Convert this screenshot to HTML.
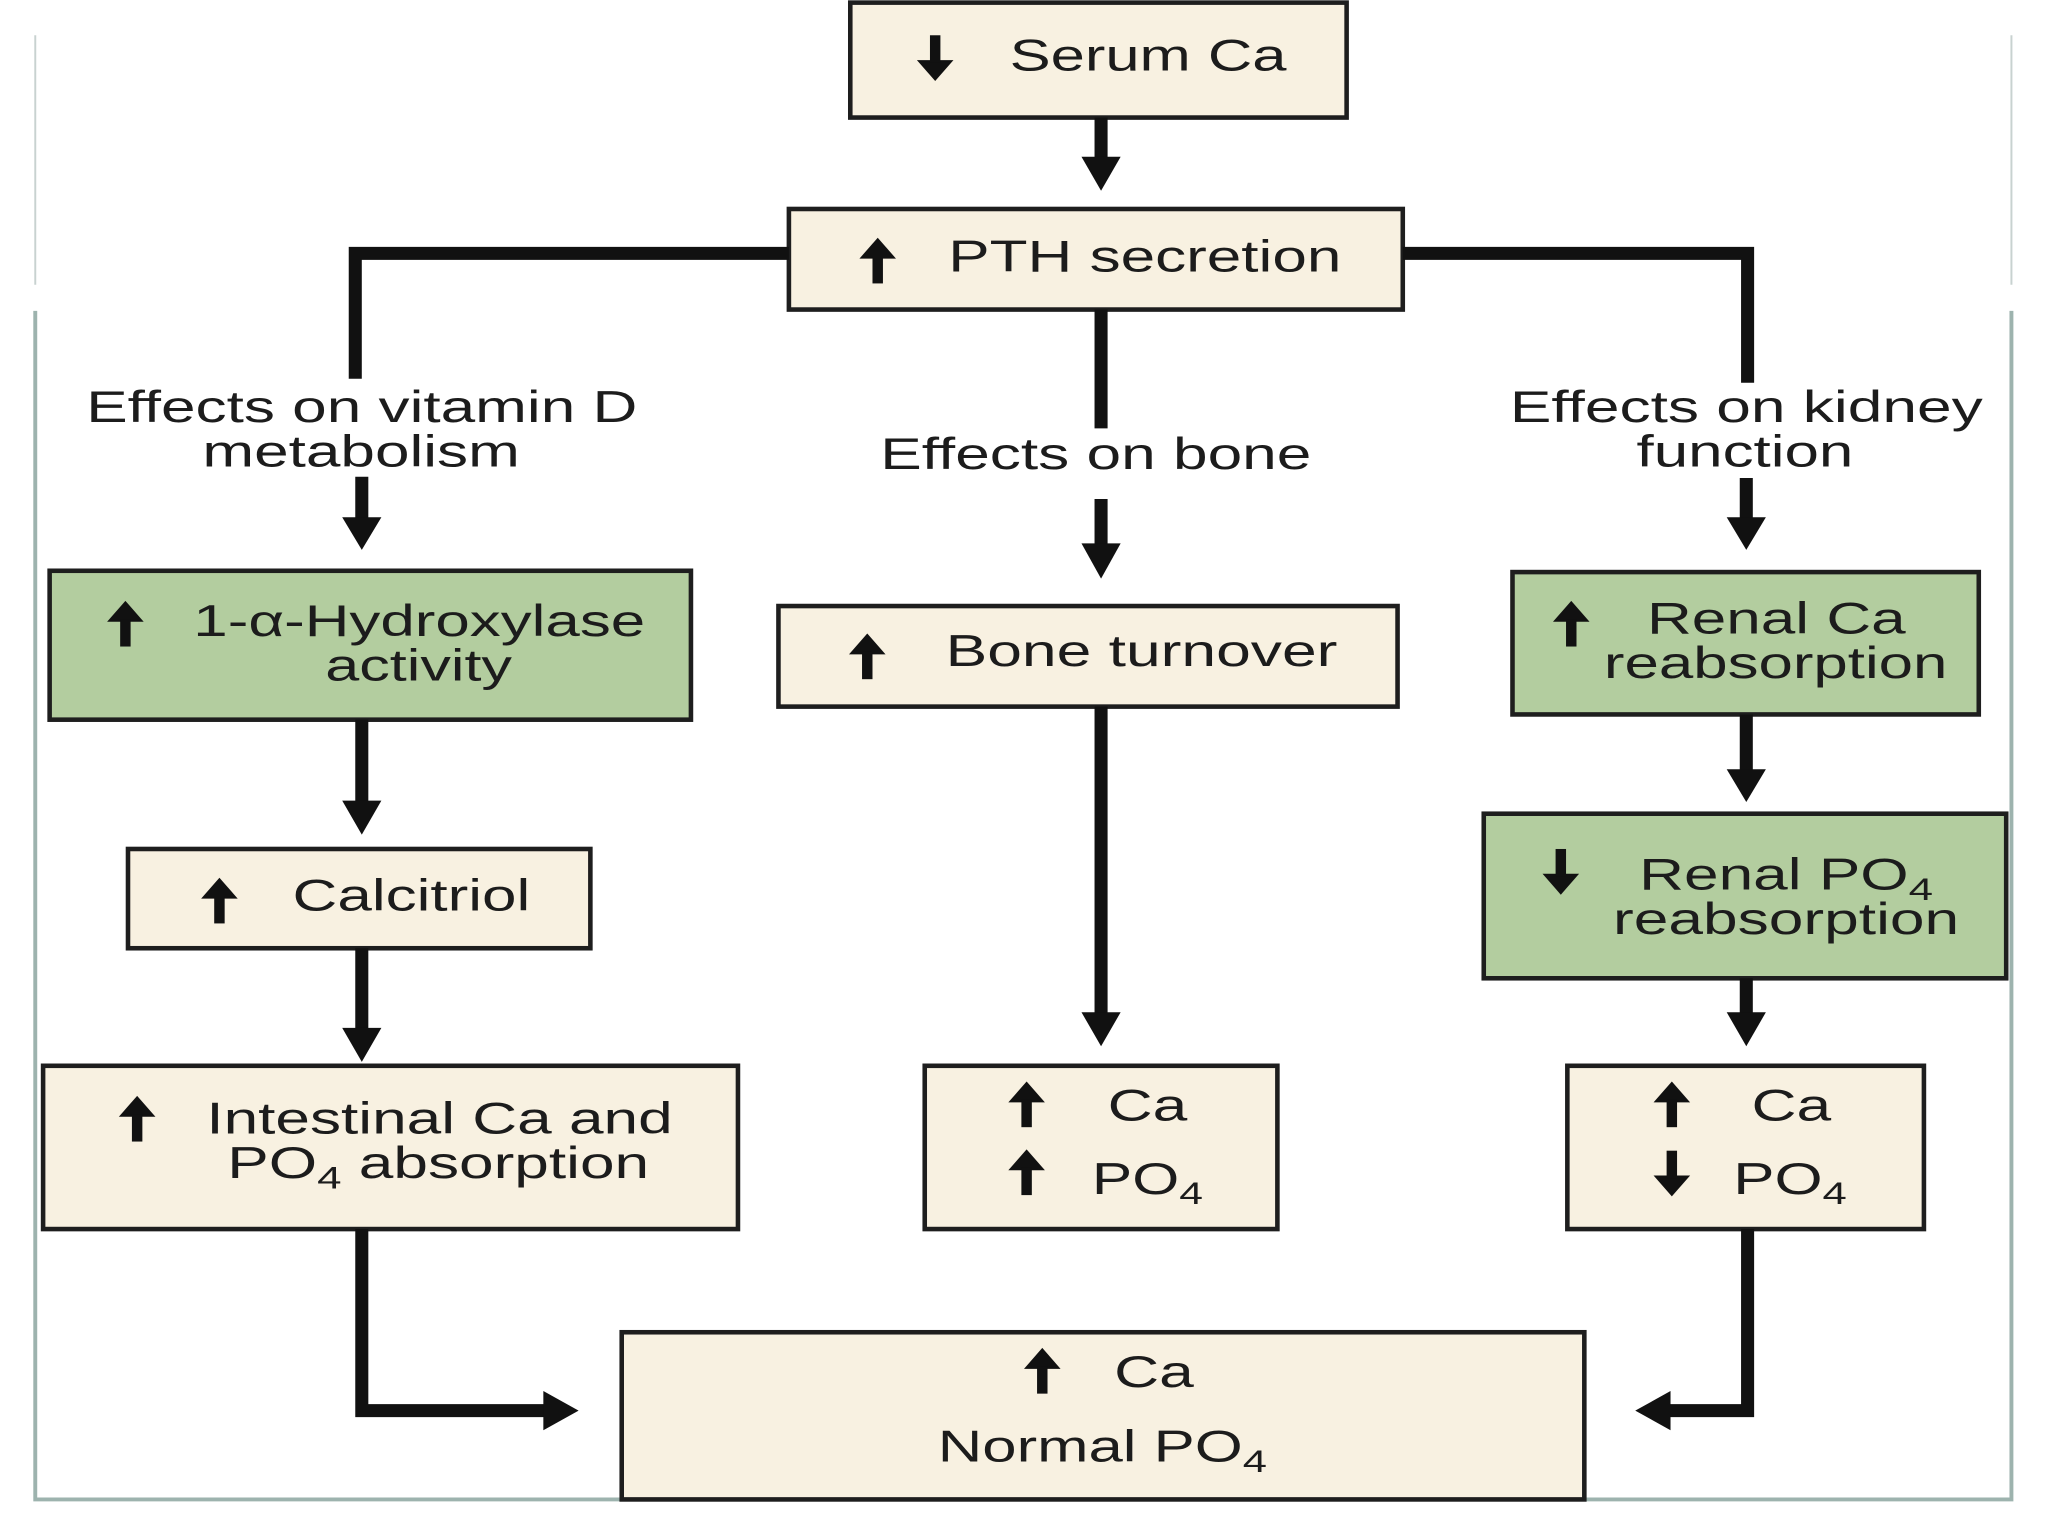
<!DOCTYPE html>
<html><head><meta charset="utf-8"><style>
html,body{margin:0;padding:0;background:#fff;}
svg{display:block;}
text{font-family:"Liberation Sans",sans-serif;fill:#1c1c1c;font-size:34px;}
</style></head><body>
<svg width="2048" height="1536" viewBox="0 0 1568 1176" preserveAspectRatio="none" xmlns="http://www.w3.org/2000/svg">
<defs>
<g id="up"><polygon points="0,-18 -14,-2 14,-2" fill="#111"/><rect x="-4" y="-4" width="8" height="21" fill="#111"/></g>
<g id="dn"><polygon points="0,18 -14,2 14,2" fill="#111"/><rect x="-4" y="-17" width="8" height="21" fill="#111"/></g>
</defs>
<rect width="1568" height="1176" fill="#fff"/>
<path d="M27,238 V1148 H1540 V238" fill="none" stroke="#9db3ae" stroke-width="3"/>
<path d="M27,27 V218 M1540,27 V218" fill="none" stroke="#c8d2d0" stroke-width="1.5"/>

<g fill="#f8f1e1" stroke="#1e1e1e" stroke-width="3.5">
<rect x="651" y="2" width="380" height="88"/>
<rect x="604" y="160" width="470" height="77"/>
<rect x="596" y="464" width="474" height="77"/>
<rect x="98" y="650" width="354" height="76"/>
<rect x="33" y="816" width="532" height="125"/>
<rect x="708" y="816" width="270" height="125"/>
<rect x="1200" y="816" width="273" height="125"/>
<rect x="476" y="1020" width="737" height="128"/>
</g>
<g fill="#b3cd9f" stroke="#1e1e1e" stroke-width="3.5">
<rect x="38" y="437" width="491" height="114"/>
<rect x="1158" y="438" width="357" height="109"/>
<rect x="1136" y="623" width="400" height="126"/>
</g>

<g fill="none" stroke="#111" stroke-width="10">
<path d="M843,90 V124"/>
<path d="M604,194 H272 V290"/>
<path d="M1074,194 H1338 V293"/>
<path d="M843,237 V328"/>
<path d="M277,365 V398"/>
<path d="M843,382 V420"/>
<path d="M1337,366 V398"/>
<path d="M277,551 V616"/>
<path d="M277,726 V790"/>
<path d="M843,541 V778"/>
<path d="M1337,547 V592"/>
<path d="M1337,749 V778"/>
<path d="M277,941 V1080 H420"/>
<path d="M1338,941 V1080 H1275"/>
</g>
<g fill="#111">
<polygon points="828,120 858,120 843,146"/>
<polygon points="262,396 292,396 277,421"/>
<polygon points="828,416 858,416 843,443"/>
<polygon points="1322,396 1352,396 1337,421"/>
<polygon points="262,613 292,613 277,639"/>
<polygon points="262,787 292,787 277,813"/>
<polygon points="828,775 858,775 843,801"/>
<polygon points="1322,589 1352,589 1337,614"/>
<polygon points="1322,775 1352,775 1337,801"/>
<polygon points="416,1065 416,1095 443,1080"/>
<polygon points="1279,1065 1279,1095 1252,1080"/>
</g>

<use href="#dn" x="716" y="44"/>
<use href="#up" x="672" y="200"/>
<use href="#up" x="96" y="478"/>
<use href="#up" x="664" y="503"/>
<use href="#up" x="1203" y="478"/>
<use href="#dn" x="1195" y="667"/>
<use href="#up" x="168" y="690"/>
<use href="#up" x="105" y="857"/>
<use href="#up" x="786" y="846"/>
<use href="#up" x="786" y="898"/>
<use href="#up" x="1280" y="846"/>
<use href="#dn" x="1280" y="898"/>
<use href="#up" x="798" y="1050"/>

<text x="773" y="54" textLength="212" lengthAdjust="spacingAndGlyphs">Serum Ca</text>
<text x="726" y="208" textLength="301" lengthAdjust="spacingAndGlyphs">PTH secretion</text>
<text x="66" y="323" textLength="422" lengthAdjust="spacingAndGlyphs">Effects on vitamin D</text>
<text x="155" y="357" textLength="243" lengthAdjust="spacingAndGlyphs">metabolism</text>
<text x="674" y="359" textLength="330" lengthAdjust="spacingAndGlyphs">Effects on bone</text>
<text x="1156" y="323" textLength="362" lengthAdjust="spacingAndGlyphs">Effects on kidney</text>
<text x="1253" y="357" textLength="166" lengthAdjust="spacingAndGlyphs">function</text>
<text x="148" y="487" textLength="346" lengthAdjust="spacingAndGlyphs">1-α-Hydroxylase</text>
<text x="249" y="521" textLength="143" lengthAdjust="spacingAndGlyphs">activity</text>
<text x="724" y="510" textLength="300" lengthAdjust="spacingAndGlyphs">Bone turnover</text>
<text x="1261" y="485" textLength="198" lengthAdjust="spacingAndGlyphs">Renal Ca</text>
<text x="1228" y="519" textLength="263" lengthAdjust="spacingAndGlyphs">reabsorption</text>
<text x="1255" y="681" textLength="225" lengthAdjust="spacingAndGlyphs">Renal PO<tspan font-size="24" dy="8">4</tspan></text>
<text x="1235" y="715" textLength="265" lengthAdjust="spacingAndGlyphs">reabsorption</text>
<text x="224" y="697" textLength="182" lengthAdjust="spacingAndGlyphs">Calcitriol</text>
<text x="158" y="868" textLength="357" lengthAdjust="spacingAndGlyphs">Intestinal Ca and</text>
<text x="174" y="902" textLength="323" lengthAdjust="spacingAndGlyphs">PO<tspan font-size="24" dy="8">4</tspan><tspan dy="-8"> absorption</tspan></text>
<text x="848" y="858" textLength="61" lengthAdjust="spacingAndGlyphs">Ca</text>
<text x="836" y="914" textLength="85" lengthAdjust="spacingAndGlyphs">PO<tspan font-size="24" dy="8">4</tspan></text>
<text x="1341" y="858" textLength="61" lengthAdjust="spacingAndGlyphs">Ca</text>
<text x="1327" y="914" textLength="87" lengthAdjust="spacingAndGlyphs">PO<tspan font-size="24" dy="8">4</tspan></text>
<text x="853" y="1062" textLength="61" lengthAdjust="spacingAndGlyphs">Ca</text>
<text x="718" y="1119" textLength="252" lengthAdjust="spacingAndGlyphs">Normal PO<tspan font-size="24" dy="8">4</tspan></text>
</svg>
</body></html>
